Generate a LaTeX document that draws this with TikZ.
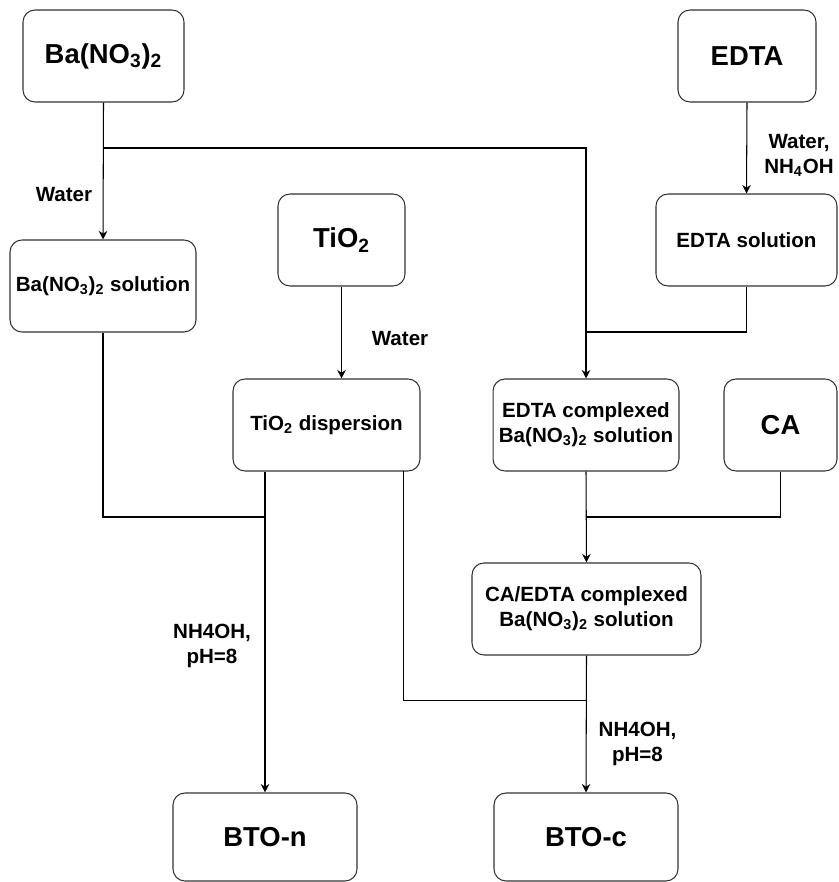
\documentclass[tikz,border=0pt]{standalone}
\usepackage{fontspec}
\setmainfont{Liberation Sans}
\usepackage{tikz}
\usetikzlibrary{arrows.meta, positioning, calc}

\begin{document}
\begin{tikzpicture}[>={Stealth[length=1.7mm,width=1.7mm]},
      line width=0.6pt,
      box/.style={rectangle, draw=black!80, rounded corners=0.24cm, align=center, font=\fontsize{11.7}{14.2}\selectfont\bfseries, minimum height=1.84cm},
      bigbox/.style={box, font=\fontsize{15.6}{18}\selectfont\bfseries},
      note/.style={align=center, font=\fontsize{11.7}{14.2}\selectfont\bfseries}]

      \useasboundingbox (0,0) rectangle (16.76,-17.64);

      \node[bigbox, minimum width=3.22cm] (ba) at (2.07,-1.12) {Ba(NO\textsubscript{3})\textsubscript{2}};
      \node[bigbox, minimum width=2.76cm] (edta) at (14.94,-1.12) {EDTA};
      \node[box, minimum width=3.68cm] (basol) at (2.06,-5.72) {Ba(NO\textsubscript{3})\textsubscript{2} solution};
      \node[bigbox, minimum width=2.54cm] (tio2) at (6.83,-4.80) {TiO\textsubscript{2}};
      \node[box, minimum width=3.62cm] (edtasol) at (14.93,-4.80) {EDTA solution};
      \node[box, minimum width=3.74cm] (tio2disp) at (6.53,-8.50) {TiO\textsubscript{2} dispersion};
      \node[box, minimum width=3.68cm] (complexed) at (11.72,-8.50) {EDTA complexed\\Ba(NO\textsubscript{3})\textsubscript{2} solution};
      \node[bigbox, minimum width=2.26cm] (ca) at (15.61,-8.50) {CA};
      \node[box, minimum width=4.58cm] (caedta) at (11.73,-12.18) {CA/EDTA complexed\\Ba(NO\textsubscript{3})\textsubscript{2} solution};
      \node[bigbox, minimum width=3.68cm, minimum height=1.76cm] (bton) at (5.30,-16.74) {BTO-n};
      \node[bigbox, minimum width=3.68cm, minimum height=1.76cm] (btoc) at (11.72,-16.74) {BTO-c};

      % Junctions
      \coordinate (j1) at (2.07,-2.96);
      \coordinate (j2) at (11.72,-6.64);
      \coordinate (j3) at (5.30,-10.34);
      \coordinate (j4) at (11.72,-14.01);
      \coordinate (j5) at (11.72,-10.34);
      \coordinate (d2) at (8.07,-9.42);

      % Arrows
      \draw[->] (ba.south) -- (basol.north);
      \draw[->] (j1) -| (complexed.north);
      \draw[->] (edta.south) -- (edtasol.north);
      \draw (edtasol.south) |- (j2);
      \draw[->] (tio2.south) -- (tio2.south |- tio2disp.north);

      \draw (basol.south) |- (j3);
      \draw[->] (tio2disp.south -| bton.north) -- (bton.north);
      \draw (d2) |- (j4);

      \draw[->] (complexed.south) -- (caedta.north);
      \draw (ca.south) |- (j5);
      \draw[->] (caedta.south) -- (btoc.north);

      % Labels
      \node[note] (w1) at (1.28,-3.90) {Water};
      \node[note] (w2) at (8.00,-6.78) {Water};
      \node[note] (w3) at (15.98,-3.11) {Water,\\NH\textsubscript{4}OH};
      \node[note] (ph1) at (4.24,-12.91) {NH4OH,\\pH=8};
      \node[note] (ph2) at (12.75,-14.88) {NH4OH,\\pH=8};
    \end{tikzpicture}
\end{document}
